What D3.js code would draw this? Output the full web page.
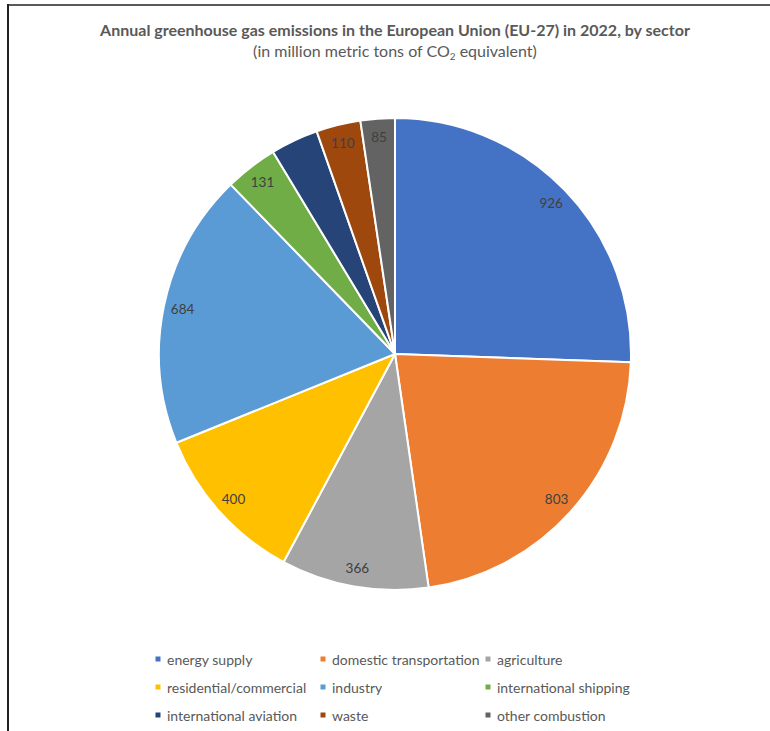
<!DOCTYPE html>
<html>
<head>
<meta charset="utf-8">
<script src="https://cdn.jsdelivr.net/npm/d3@7"></script>
<style>
  body { margin: 0; background: #fff; }
  svg { display: block; font-family: Lato, "Open Sans", sans-serif; }
</style>
</head>
<body>
<script>
'use strict';

// sectors, clockwise from 12 o'clock
const sectors = ["energy supply", "domestic transportation", "agriculture",
  "residential/commercial", "industry", "international shipping",
  "international aviation", "waste", "other combustion"];
const emissions = [926, 803, 366, 400, 684, 131, 118, 110, 85];
const sectorColors = ["#4472C4", "#ED7D31", "#A5A5A5", "#FFC000", "#5B9BD5",
  "#70AD47", "#264478", "#9E480E", "#636363"];
// the aviation label is not shown in the original
const showLabel = [true, true, true, true, true, true, false, true, true];

(function () {
  const width = 770, height = 731;
  const cx = 395, cy = 354, radius = 236;

  const svg = d3.select("body").append("svg")
    .attr("width", width)
    .attr("height", height);

  // frame lines (top + left, as in the screenshot)
  svg.append("line")
    .attr("x1", 7).attr("y1", 5).attr("x2", width).attr("y2", 5)
    .attr("stroke", "#5a5a5a").attr("stroke-width", 2);
  svg.append("line")
    .attr("x1", 8).attr("y1", 4).attr("x2", 8).attr("y2", height)
    .attr("stroke", "#222").attr("stroke-width", 2);

  // title
  svg.append("text")
    .attr("x", cx).attr("y", 36)
    .attr("text-anchor", "middle")
    .style("font-size", "16px")
    .style("font-weight", "bold")
    .attr("fill", "#595959")
    .text("Annual greenhouse gas emissions in the European Union (EU-27) in 2022, by sector");

  const sub = svg.append("text")
    .attr("x", cx).attr("y", 57)
    .attr("text-anchor", "middle")
    .style("font-size", "16px")
    .attr("fill", "#595959");
  sub.append("tspan").text("(in million metric tons of CO");
  sub.append("tspan").attr("dy", 3).style("font-size", "10px").text("2");
  sub.append("tspan").attr("dy", -3).text(" equivalent)");

  const rows = sectors.map((s, i) => ({ name: s, value: emissions[i], color: sectorColors[i], show: showLabel[i] }));

  const pie = d3.pie().sort(null).value((d) => d.value);
  const arc = d3.arc().innerRadius(0).outerRadius(radius);
  const labelArc = d3.arc().innerRadius(radius * 0.92).outerRadius(radius * 0.92);

  const g = svg.append("g").attr("transform", "translate(" + cx + "," + cy + ")");
  const arcs = pie(rows);

  g.selectAll("path")
    .data(arcs)
    .enter()
    .append("path")
    .attr("d", arc)
    .attr("fill", (d) => d.data.color)
    .attr("stroke", "#fff")
    .attr("stroke-width", 2)
    .attr("stroke-linejoin", "round");

  g.selectAll(".lbl")
    .data(arcs.filter((d) => d.data.show))
    .enter()
    .append("text")
    .attr("class", "lbl")
    .attr("transform", (d) => "translate(" + labelArc.centroid(d) + ")")
    .attr("text-anchor", "middle")
    .attr("dominant-baseline", "central")
    .style("font-size", "13.5px")
    .attr("fill", "#404040")
    .text((d) => d.data.value);

  // legend: 3 columns x 3 rows
  const colX = [158, 323, 488];
  const rowY = [659, 687, 715];
  const legend = svg.selectAll(".leg")
    .data(rows)
    .enter()
    .append("g")
    .attr("class", "leg")
    .attr("transform", (d, i) => "translate(" + colX[i % 3] + "," + rowY[Math.floor(i / 3)] + ")");

  legend.append("rect")
    .attr("x", -2.5).attr("y", -2.5)
    .attr("width", 5).attr("height", 5)
    .attr("fill", (d) => d.color);

  legend.append("text")
    .attr("x", 9)
    .attr("dominant-baseline", "central")
    .style("font-size", "14px")
    .attr("fill", "#595959")
    .text((d) => d.name);
})();
</script>
</body>
</html>
